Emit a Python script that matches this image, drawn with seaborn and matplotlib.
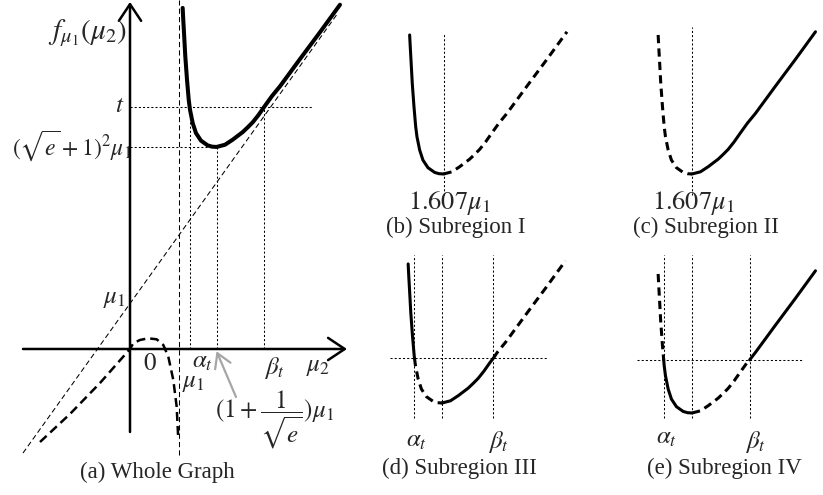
import numpy as np
import matplotlib
matplotlib.use("Agg")
import matplotlib.pyplot as plt
import seaborn as sns

sns.set_style("white")
plt.rcParams["font.family"] = ["Liberation Serif", "DejaVu Serif"]
plt.rcParams["mathtext.fontset"] = "stix"

# ---- curve f_{mu1}(mu2), both axes in units of mu1 ----
# branch mu2 > mu1
mu2_right = [1.052, 1.062, 1.074, 1.095, 1.123, 1.151, 1.172, 1.216, 1.270,
             1.352, 1.462, 1.533, 1.607, 1.746, 1.872, 2.036, 2.118, 2.200,
             2.295, 2.393, 2.516, 2.648, 2.975, 3.303, 3.631]
f_right = [10.40, 10.02, 9.61, 8.87, 8.13, 7.50, 7.18, 6.76, 6.44,
           6.20, 6.05, 6.01, 6.00, 6.07, 6.23, 6.47, 6.62, 6.78,
           7.01, 7.28, 7.61, 7.92, 8.78, 9.63, 10.50]
# branch mu2 < mu1
mu2_left = [-1.8, -1.2, -0.6, 0.0, 0.067, 0.202, 0.370, 0.539, 0.673,
            0.774, 0.875, 0.943, 0.976]
f_left = [-2.114, -1.477, -0.773, 0.0, 0.130, 0.205, 0.243, 0.220, 0.091,
          -0.175, -0.705, -1.311, -2.068]

mu1 = 1.0
x_vertex = 1.607          # (1 + 1/sqrt(e)) mu1
f_vertex = 6.0            # (sqrt(e) + 1)^2 mu1
oblique_x = [-2.14, 3.598]
oblique_y = [-2.364, 10.24]
vertical_y = [-2.41, 10.65]

# threshold t and where the curve crosses it, per view
t_a, alpha_a, beta_a = 7.28, 1.165, 2.393
t_d, alpha_d, beta_d = 7.42, 1.156, 2.450
t_e, alpha_e, beta_e = 7.68, 1.143, 2.552

# broken axis scale of the whole-graph view (data value -> drawing length)
x_knots, x_len = [-20, 0, 1, 20], [-1000, 0, 49.5, 49.5 + 19 * 61]
y_knots, y_len = [-20, 0, 1, 6, 30], [-880, 0, 44, 202, 202 + 24 * 31.6]

W, H = 823, 495
fig = plt.figure(figsize=(W / 100, H / 100), dpi=100)


def add_panel(box):
    left, top, right, bottom = box
    ax = fig.add_axes([left / W, 1 - bottom / H, (right - left) / W, (bottom - top) / H])
    ax.axis("off")
    return ax


def zoom_panel(box, ref_px, sx=61, sy=31.6):
    left, top, right, bottom = box
    ax = add_panel(box)
    ax.set_xlim(x_vertex + (left - ref_px[0]) / sx, x_vertex + (right - ref_px[0]) / sx)
    ax.set_ylim(f_vertex - (bottom - ref_px[1]) / sy, f_vertex + (ref_px[1] - top) / sy)
    return ax


def ftext(px, py, s, size=18, ha="center", va="center", **kw):
    fig.text(px / W, 1 - py / H, s, fontsize=size, ha=ha, va=va, **kw)


def piece(lo, hi, start=None, end=None):
    xs = [x for x in mu2_right if lo <= x <= hi]
    ys = [f for x, f in zip(mu2_right, f_right) if lo <= x <= hi]
    if start is not None:
        xs, ys = [start[0]] + xs, [start[1]] + ys
    if end is not None:
        xs, ys = xs + [end[0]], ys + [end[1]]
    return xs, ys


def curve(ax, seg, dashed, lw=2.2):
    xs, ys = seg
    ls = (0, (2.7, 1.7)) if dashed else "-"
    sns.lineplot(x=xs, y=ys, ax=ax, color="black", lw=lw, linestyle=ls,
                 estimator=None, sort=False, legend=False)


def guide(ax, xs, ys, style="dot"):
    ls = (0, (2, 2)) if style == "dot" else (0, (5, 3))
    ax.plot(xs, ys, color="black", lw=0.75, linestyle=ls)


LO, HI = mu2_right[0], mu2_right[-1]

# ---------------- (a) whole graph ----------------
ax = add_panel((0, 0, 372, 495))
ax.set_xscale("function", functions=(lambda v: np.interp(v, x_knots, x_len),
                                     lambda p: np.interp(p, x_len, x_knots)))
ax.set_yscale("function", functions=(lambda v: np.interp(v, y_knots, y_len),
                                     lambda p: np.interp(p, y_len, y_knots)))
ax.set_xlim(-2.6, 4.156)
ax.set_ylim(-3.318, 10.65)

axis_arrow = dict(arrowstyle="->,head_length=0.6,head_width=0.4", lw=1.8,
                  color="black", shrinkA=0, shrinkB=0, mutation_scale=20)
ax.annotate("", xy=(3.746, 0), xytext=(-2.14, 0), arrowprops=axis_arrow)
ax.annotate("", xy=(0, 10.59), xytext=(0, -1.886), arrowprops=axis_arrow)

guide(ax, oblique_x, oblique_y, "dash")
guide(ax, [mu1, mu1], vertical_y, "dash")
guide(ax, [0, 3.189], [t_a, t_a])
guide(ax, [0, x_vertex], [f_vertex, f_vertex])
guide(ax, [alpha_a, alpha_a], [0, t_a])
guide(ax, [x_vertex, x_vertex], [0, f_vertex])
guide(ax, [beta_a, beta_a], [0, t_a])

sns.lineplot(x=mu2_right, y=f_right, ax=ax, color="black", lw=2.9,
             estimator=None, sort=False, legend=False)
sns.lineplot(x=mu2_left, y=f_left, ax=ax, color="black", lw=1.8,
             linestyle=(0, (3.6, 2.0)), estimator=None, sort=False, legend=False)

ax.annotate("", xy=(x_vertex, -0.05), xytext=(1.926, -1.09),
            arrowprops=dict(arrowstyle="->,head_length=0.5,head_width=0.3",
                            color="#a6a6a6", lw=1.6, mutation_scale=20,
                            shrinkA=0, shrinkB=0))

ftext(127, 33, r"$f_{\mu_1}(\mu_2)$", size=21, ha="right")
ftext(124, 106, r"$t$", ha="right")
ftext(132, 146, r"$(\sqrt{e}+1)^2\mu_1$", size=17, ha="right")
ftext(126, 299, r"$\mu_1$", ha="right")
ftext(150, 364, r"$0$")
ftext(202, 362, r"$\alpha_t$")
ftext(193, 383, r"$\mu_1$")
ftext(274, 368, r"$\beta_t$")
ftext(318, 367, r"$\mu_2$")
ftext(275, 420, r"$(1+\dfrac{1}{\sqrt{e}})\mu_1$")
ftext(157, 472, "(a) Whole Graph", size=16.5)

# ---------------- (b) subregion I ----------------
ax = zoom_panel((380, 0, 605, 245), (443.5, 174))
guide(ax, [x_vertex, x_vertex], [5.34, 10.46])
curve(ax, piece(LO, x_vertex), False)
curve(ax, piece(x_vertex, HI), True)
ftext(449, 203, r"$1.607\mu_1$", size=19)
ftext(456, 227, "(b) Subregion I", size=16.5)

# ---------------- (c) subregion II ----------------
ax = zoom_panel((625, 0, 823, 245), (692, 174))
guide(ax, [x_vertex, x_vertex], [5.34, 10.65])
curve(ax, piece(LO, x_vertex), True)
curve(ax, piece(x_vertex, HI), False)
ftext(693, 203, r"$1.607\mu_1$", size=19)
ftext(706, 227, "(c) Subregion II", size=16.5)

# ---------------- (d) subregion III ----------------
ax = zoom_panel((375, 245, 605, 495), (442, 403))
guide(ax, [0.755, 3.328], [t_d, t_d])
for xv in (alpha_d, x_vertex, beta_d):
    guide(ax, [xv, xv], [5.53, 10.68])
curve(ax, piece(LO, alpha_d, end=(alpha_d, t_d)), False)
curve(ax, piece(alpha_d, x_vertex, start=(alpha_d, t_d)), True)
curve(ax, piece(x_vertex, beta_d, end=(beta_d, t_d)), False)
curve(ax, piece(beta_d, HI, start=(beta_d, t_d)), True)
ftext(416, 441, r"$\alpha_t$")
ftext(498, 442, r"$\beta_t$")
ftext(459, 468, "(d) Subregion III", size=16.5)

# ---------------- (e) subregion IV ----------------
ax = zoom_panel((625, 245, 823, 495), (692, 413))
guide(ax, [0.705, 3.41], [t_e, t_e])
for xv in (alpha_e, x_vertex, beta_e):
    guide(ax, [xv, xv], [5.84, 11.0])
curve(ax, piece(LO, alpha_e, end=(alpha_e, t_e)), True)
curve(ax, piece(alpha_e, x_vertex, start=(alpha_e, t_e)), False)
curve(ax, piece(x_vertex, beta_e, end=(beta_e, t_e)), True)
curve(ax, piece(beta_e, HI, start=(beta_e, t_e)), False)
ftext(666, 438, r"$\alpha_t$")
ftext(755, 442, r"$\beta_t$")
ftext(724, 468, "(e) Subregion IV", size=16.5)

fig.savefig("out.png", dpi=100, facecolor="white")
